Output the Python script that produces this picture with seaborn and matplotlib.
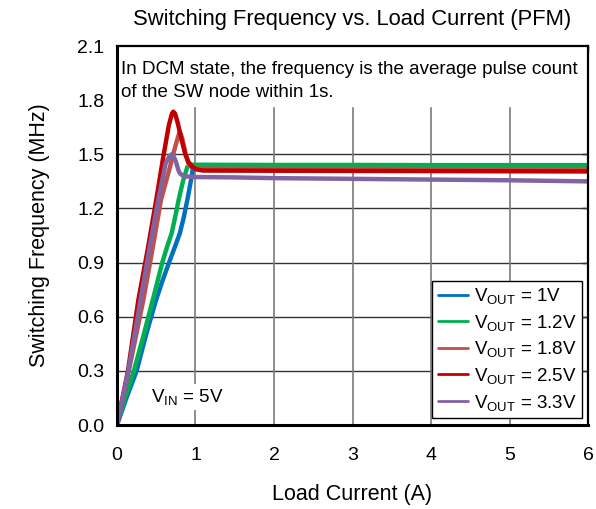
import pandas as pd
import matplotlib
matplotlib.use('Agg')
import matplotlib.pyplot as plt
import seaborn as sns

sns.set_style('white')
plt.rcParams['font.family'] = ['Liberation Sans', 'DejaVu Sans']
plt.rcParams['mathtext.fontset'] = 'custom'
plt.rcParams['mathtext.rm'] = 'Liberation Sans'
plt.rcParams['mathtext.it'] = 'Liberation Sans:italic'
plt.rcParams['text.color'] = 'black'
plt.rcParams['axes.labelcolor'] = 'black'
plt.rcParams['xtick.color'] = 'black'
plt.rcParams['ytick.color'] = 'black'

# values
x_1v = [0, 0.12, 0.25, 0.37, 0.497, 0.58, 0.667, 0.74, 0.80, 0.85, 0.896, 0.94, 0.97, 1.05, 2, 3, 4, 5, 6]
y_1v = [0, 0.15, 0.30, 0.50, 0.692, 0.80, 0.905, 0.99, 1.062, 1.15, 1.247, 1.35, 1.43, 1.44, 1.438, 1.437, 1.437, 1.436, 1.436]

x_12v = [0, 0.10, 0.215, 0.34, 0.455, 0.58, 0.64, 0.696, 0.74, 0.785, 0.84, 0.896, 0.95, 2, 3, 4, 5, 6]
y_12v = [0, 0.15, 0.30, 0.50, 0.692, 0.905, 0.99, 1.062, 1.15, 1.247, 1.35, 1.43, 1.442, 1.441, 1.441, 1.440, 1.440, 1.440]

x_18v = [0, 0.15, 0.335, 0.45, 0.56, 0.675, 0.74, 0.78, 0.80, 0.83, 0.87, 0.91, 0.96, 1.05, 2, 3, 4, 5, 6]
y_18v = [0, 0.30, 0.692, 0.97, 1.247, 1.43, 1.54, 1.60, 1.625, 1.59, 1.51, 1.45, 1.425, 1.42, 1.419, 1.419, 1.418, 1.418, 1.418]

x_25v = [0, 0.14, 0.272, 0.39, 0.50, 0.59, 0.66, 0.70, 0.717, 0.74, 0.77, 0.824, 0.87, 0.908, 0.96, 1.015, 1.1, 2, 3, 4, 5, 6]
y_25v = [0, 0.30, 0.692, 0.97, 1.247, 1.487, 1.66, 1.725, 1.736, 1.725, 1.68, 1.579, 1.50, 1.459, 1.43, 1.416, 1.41, 1.409, 1.408, 1.407, 1.406, 1.405]

x_33v = [0, 0.145, 0.30, 0.41, 0.526, 0.62, 0.67, 0.696, 0.72, 0.75, 0.78, 0.80, 0.85, 1.0, 1.5, 2, 3, 4, 5, 6]
y_33v = [0, 0.30, 0.692, 0.97, 1.247, 1.45, 1.49, 1.50, 1.49, 1.46, 1.415, 1.395, 1.378, 1.374, 1.372, 1.368, 1.364, 1.36, 1.356, 1.35]

series = [r'V$_{\mathrm{OUT}}$ = 1V', r'V$_{\mathrm{OUT}}$ = 1.2V', r'V$_{\mathrm{OUT}}$ = 1.8V',
          r'V$_{\mathrm{OUT}}$ = 2.5V', r'V$_{\mathrm{OUT}}$ = 3.3V']
colors = ['#0070C0', '#00B050', '#C0504D', '#C00000', '#8064A2']

xs = [x_1v, x_12v, x_18v, x_25v, x_33v]
ys = [y_1v, y_12v, y_18v, y_25v, y_33v]
frames = []
for name, xv, yv in zip(series, xs, ys):
    frames.append(pd.DataFrame({'Load Current (A)': xv, 'Switching Frequency (MHz)': yv, 'Vout': name}))
df = pd.concat(frames, ignore_index=True)

fig = plt.figure(figsize=(5.96, 5.09), dpi=100)
ax = fig.add_axes([0.1963, 0.165, 0.7903, 0.7446])

# grid first so the curves sit on top
for yv in [0.3, 0.6, 0.9, 1.2, 1.5, 1.8]:
    ax.axhline(yv, color='#333333', lw=1.0, zorder=1)
for xv in [1, 2, 3, 4, 5]:
    ax.axvline(xv, color='#7a7a7a', lw=1.2, zorder=1)

sns.lineplot(data=df, x='Load Current (A)', y='Switching Frequency (MHz)', hue='Vout',
             hue_order=series, palette=colors, sort=False, estimator=None,
             linewidth=3.2, ax=ax, zorder=3)

# white band behind the note at the top
ax.axhspan(1.765, 2.1, color='white', zorder=4)
ax.text(0.05, 2.017, 'In DCM state, the frequency is the average pulse count\nof the SW node within 1s.',
        fontsize=13.5, va='top', ha='left', linespacing=1.45, zorder=5)

ax.text(0.89, 0.155, r'V$_{\mathrm{IN}}$ = 5V', fontsize=13.5, ha='center', va='center', zorder=5,
        bbox=dict(facecolor='white', edgecolor='none', pad=2))

ax.set_xlim(0, 6)
ax.set_ylim(0, 2.1)
ax.set_xticks(range(0, 7))
ax.set_yticks([0.0, 0.3, 0.6, 0.9, 1.2, 1.5, 1.8, 2.1])
ax.set_yticklabels(['0.0', '0.3', '0.6', '0.9', '1.2', '1.5', '1.8', '2.1'])
ax.tick_params(direction='in', length=4.5, width=1, top=True, right=True, labelsize=14, colors='black')
ax.tick_params(axis='x', pad=16)
ax.tick_params(axis='y', pad=9)

ax.set_title('Switching Frequency vs. Load Current (PFM)', fontsize=15.8, pad=15)
ax.set_xlabel('Load Current (A)', fontsize=15.5, labelpad=14)
ax.set_ylabel('Switching Frequency (MHz)', fontsize=15.5, labelpad=20)

for side in ['left', 'bottom']:
    ax.spines[side].set_linewidth(2.2)
for side in ['top', 'right']:
    ax.spines[side].set_linewidth(1.6)
for sp in ax.spines.values():
    sp.set_color('black')
    sp.set_zorder(6)

handles, labels = ax.get_legend_handles_labels()
leg = ax.legend(handles, labels, loc='lower right', bbox_to_anchor=(0.987, 0.018), borderaxespad=0,
                fontsize=13.5, frameon=True, fancybox=False, edgecolor='black', framealpha=1,
                handlelength=1.6, handletextpad=0.3, labelspacing=0.35, borderpad=0.3)
leg.get_frame().set_linewidth(1.0)
leg.set_zorder(7)
for ln in leg.get_lines():
    ln.set_linewidth(2.0)

fig.savefig('out.png', dpi=100)
